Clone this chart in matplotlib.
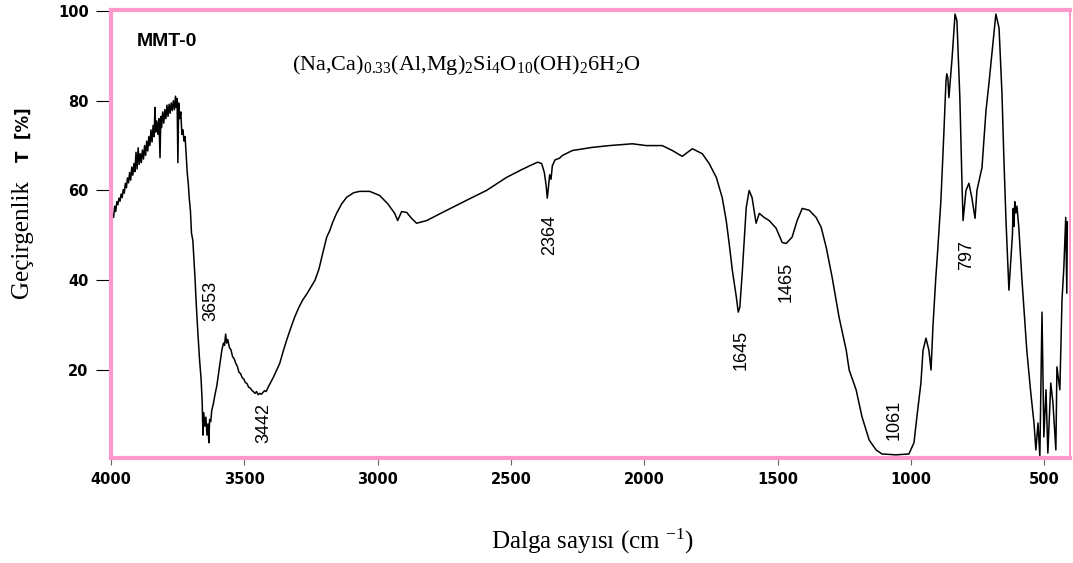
import numpy as np
import matplotlib
matplotlib.use('Agg')
import matplotlib.pyplot as plt

# Configuration
plt.rcParams['mathtext.fontset'] = 'custom'
plt.rcParams['mathtext.rm'] = 'Liberation Serif'
plt.rcParams['mathtext.it'] = 'Liberation Serif:italic'
PINK = '#ff99cc'

# ─── DATA ─────────────────────────────────────────────────────────────────────
wavenumber = [
    4000, 3997, 3995, 3990, 3986, 3982, 3978, 3974, 3970, 3966, 3962, 3958, 3954, 3950,
    3946, 3942, 3938, 3934, 3930, 3926, 3922, 3918, 3914, 3910, 3906, 3902, 3898, 3894,
    3890, 3886, 3882, 3878, 3874, 3870, 3866, 3862, 3858, 3854, 3850, 3846, 3842, 3838,
    3835, 3832, 3828, 3824, 3820, 3816, 3813, 3810, 3806, 3802, 3798, 3794, 3790, 3786,
    3782, 3778, 3774, 3770, 3766, 3762, 3758, 3755, 3752, 3749, 3746, 3742, 3738, 3734,
    3730, 3726, 3722, 3718, 3714, 3710, 3706, 3702, 3698, 3693, 3689, 3685, 3680, 3674,
    3668, 3662, 3658, 3655, 3652, 3648, 3644, 3640, 3636, 3633, 3630, 3626, 3622, 3616,
    3610, 3603, 3596, 3590, 3584, 3578, 3574, 3570, 3566, 3562, 3556, 3550, 3544, 3538,
    3532, 3526, 3520, 3514, 3508, 3502, 3496, 3490, 3484, 3478, 3472, 3466, 3460, 3454,
    3448, 3442, 3436, 3430, 3424, 3418, 3412, 3405, 3390, 3380, 3367, 3355, 3341, 3325,
    3311, 3295, 3281, 3265, 3250, 3235, 3220, 3206, 3191, 3180, 3168, 3154, 3135, 3116,
    3090, 3067, 3030, 2993, 2963, 2936, 2925, 2910, 2891, 2873, 2854, 2816, 2757, 2667,
    2592, 2517, 2468, 2430, 2400, 2385, 2375, 2368, 2364, 2360, 2355, 2350, 2345, 2335,
    2318, 2307, 2270, 2195, 2131, 2045, 1993, 1933, 1895, 1858, 1820, 1783, 1757, 1730,
    1708, 1693, 1682, 1670, 1655, 1648, 1642, 1633, 1625, 1618, 1607, 1596, 1581, 1569,
    1551, 1532, 1506, 1483, 1468, 1446, 1427, 1408, 1382, 1356, 1337, 1318, 1296, 1270,
    1243, 1232, 1206, 1184, 1157, 1131, 1109, 1056, 1008, 989, 978, 963, 955, 944,
    933, 925, 918, 907, 900, 888, 877, 869, 866, 862, 858, 846, 835, 828,
    817, 809, 805, 794, 783, 772, 760, 753, 734, 719, 708, 697, 682, 670,
    659, 652, 644, 633, 626, 620, 617, 614, 611, 607, 603, 596, 584, 566,
    551, 539, 532, 524, 517, 509, 502, 494, 487, 476, 468, 457, 453, 442,
    434, 427, 420, 416, 414,
]
transmittance = [
    52.0, 51.5, 55.0, 54.0, 56.5, 55.3, 57.5, 56.8, 58.3, 57.6, 59.2, 58.4, 60.2, 59.4,
    61.6, 60.6, 62.8, 61.7, 64.0, 62.3, 65.2, 63.4, 66.0, 64.2, 68.5, 64.8, 69.5, 65.8,
    68.2, 66.2, 69.0, 67.0, 70.0, 67.8, 71.0, 68.8, 72.0, 70.0, 73.5, 70.8, 74.5, 72.0,
    78.5, 73.0, 75.5, 72.5, 76.0, 67.3, 76.5, 74.0, 77.5, 75.0, 78.0, 76.0, 79.0, 76.5,
    79.2, 77.2, 79.5, 77.8, 80.0, 78.0, 81.0, 78.5, 80.5, 66.2, 79.5, 76.0, 77.5, 72.5,
    73.5, 71.0, 72.0, 68.0, 64.0, 61.5, 58.0, 55.5, 50.5, 48.9, 45.0, 40.7, 34.5, 28.2,
    22.5, 18.0, 13.0, 5.5, 10.5, 7.5, 9.5, 5.5, 8.0, 3.8, 9.0, 8.5, 11.0, 12.5,
    14.5, 16.5, 19.5, 22.0, 24.5, 26.0, 25.5, 28.0, 26.0, 26.8, 25.0, 24.5, 23.0, 22.5,
    21.5, 20.8, 19.5, 19.2, 18.3, 18.0, 17.2, 17.0, 16.2, 16.0, 15.5, 15.2, 14.8, 15.2,
    14.5, 14.8, 14.6, 15.0, 15.4, 15.2, 16.0, 16.8, 18.5, 19.8, 21.5, 24.0, 26.7, 29.5,
    31.8, 34.0, 35.6, 37.0, 38.5, 40.0, 42.5, 46.0, 49.6, 51.0, 53.0, 54.9, 57.0, 58.5,
    59.5, 59.8, 59.8, 58.9, 57.1, 54.9, 53.3, 55.3, 55.1, 53.8, 52.7, 53.3, 55.1, 57.8,
    60.0, 62.9, 64.4, 65.5, 66.3, 66.0, 64.0, 61.0, 58.3, 60.5, 63.5, 62.5, 65.5, 66.8,
    67.2, 67.8, 68.9, 69.6, 70.0, 70.4, 70.0, 70.0, 68.9, 67.6, 69.3, 68.2, 66.0, 62.9,
    58.4, 53.3, 48.2, 42.2, 36.2, 32.9, 34.0, 41.6, 49.6, 56.2, 60.0, 58.4, 52.7, 54.9,
    54.0, 53.3, 51.6, 48.4, 48.2, 49.6, 53.3, 56.0, 55.6, 54.0, 51.8, 47.3, 40.7, 31.8,
    24.4, 20.0, 15.6, 9.6, 4.4, 2.2, 1.3, 1.1, 1.3, 3.8, 9.6, 17.1, 24.4, 27.1,
    24.4, 20.0, 29.6, 40.7, 46.7, 57.8, 72.7, 84.4, 86.0, 85.0, 80.7, 89.6, 99.3, 97.8,
    80.7, 61.6, 53.3, 60.0, 61.6, 58.4, 53.8, 60.0, 65.1, 77.8, 83.8, 90.4, 99.3, 96.2,
    81.5, 67.3, 53.3, 37.8, 44.4, 50.0, 56.0, 52.0, 57.5, 55.0, 56.5, 51.8, 40.0, 24.4,
    14.9, 8.2, 2.2, 8.2, 0.7, 32.9, 5.1, 15.6, 1.5, 17.1, 12.7, 2.2, 20.7, 15.6,
    35.6, 42.9, 54.0, 37.1, 53.0,
]

peak_labels = ['3653', '3442', '2364', '1645', '1465', '1061', '797']
peak_x      = [3625, 3427, 2356, 1637, 1468, 1064, 790]
peak_y      = [35.3, 8.2, 50.0, 24.4, 39.6, 8.9, 45.6]

x_ticks = [4000, 3500, 3000, 2500, 2000, 1500, 1000, 500]
y_ticks = [20, 40, 60, 80, 100]

# ─── PLOT ─────────────────────────────────────────────────────────────────────
fig = plt.figure(figsize=(10.73, 5.63), dpi=100)
ax = fig.add_axes([0.1034, 0.1865, 0.8938, 0.7957])

ax.plot(wavenumber, transmittance, color='black', lw=1.1)
ax.set_xlim(4000, 404)
ax.set_ylim(0.4, 100.2)

ax.set_xticks(x_ticks)
ax.set_yticks(y_ticks)
ax.tick_params(axis='y', length=11, width=0.8, pad=5, labelsize=10.5)
ax.tick_params(axis='x', length=5, width=0.8, color='#666666', pad=5, labelsize=10.5)
for lbl in ax.get_xticklabels() + ax.get_yticklabels():
    lbl.set_fontweight('bold')

for side, lw in [('left', 3), ('top', 3), ('bottom', 3), ('right', 1.5)]:
    ax.spines[side].set_color(PINK)
    ax.spines[side].set_linewidth(lw)

for txt, px, py in zip(peak_labels, peak_x, peak_y):
    ax.text(px, py, txt, rotation=90, ha='center', va='center',
            fontsize=13, family='Liberation Sans')

fig.text(0.1277, 0.927, 'MMT-0', fontsize=14, fontweight='bold',
         family='Liberation Sans', ha='left', va='center')
fig.text(0.4343, 0.8845,
         r'(Na,Ca)$_{0.33}$(Al,Mg)$_2$Si$_4$O$_{10}$(OH)$_2$6H$_2$O',
         fontsize=16, family='Liberation Serif', ha='center', va='center')

# y label: serif word + bold sans unit
fig.text(0.0205, 0.5755, 'Geçirgenlik', rotation=90, fontsize=18,
         family='Liberation Serif', ha='center', va='center')
fig.text(0.0224, 0.760, 'T  [%]', rotation=90, fontsize=12, fontweight='bold',
         family='DejaVu Sans', ha='center', va='center')

fig.text(0.552, 0.038, r'Dalga sayısı (cm $^{-1}$)', fontsize=18,
         family='Liberation Serif', ha='center', va='center')

plt.savefig('out.png', dpi=100)
